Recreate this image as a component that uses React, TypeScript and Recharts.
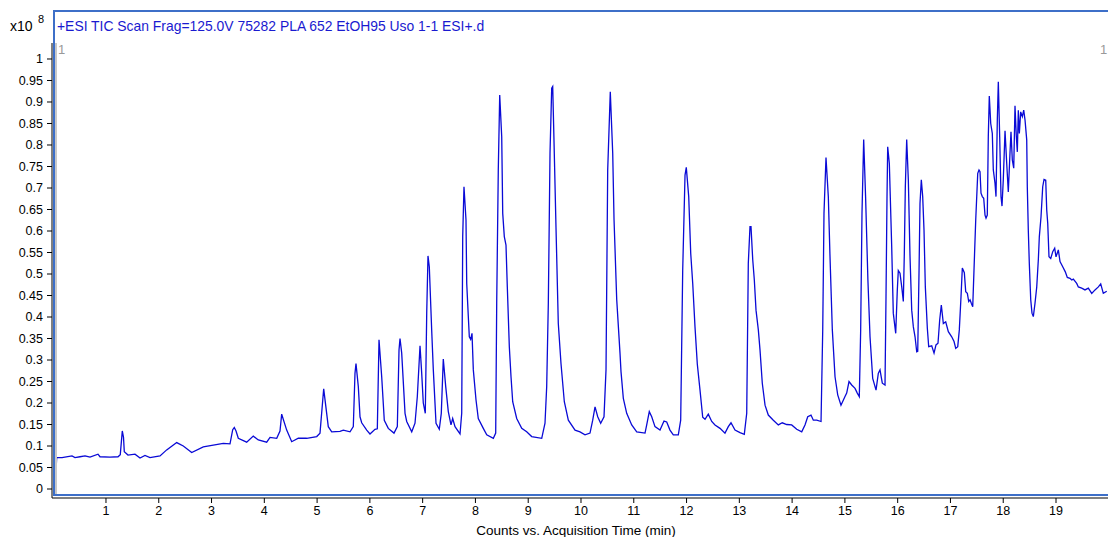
import React from "react";
import { Line, LineChart, XAxis, YAxis } from "recharts";

const FONT = "'Liberation Sans', Arial, Helvetica, sans-serif";
const TRACE = "#0a0ad6";
const FRAME = "#3d6fc8";

const TITLE = "+ESI TIC Scan Frag=125.0V 75282 PLA 652 EtOH95 Uso 1-1 ESI+.d";
const X_LABEL = "Counts vs. Acquisition Time (min)";

const X_TICKS = [1, 2, 3, 4, 5, 6, 7, 8, 9, 10, 11, 12, 13, 14, 15, 16, 17, 18, 19];
const Y_TICKS = [
  0, 0.05, 0.1, 0.15, 0.2, 0.25, 0.3, 0.35, 0.4, 0.45, 0.5, 0.55, 0.6, 0.65, 0.7,
  0.75, 0.8, 0.85, 0.9, 0.95, 1,
];

// retention time (min)
const RT = [
  0.053, 0.066, 0.167, 0.356, 0.413, 0.508, 0.603, 0.697, 0.849, 0.887, 1.076, 1.228,
  1.271, 1.309, 1.332, 1.347, 1.417, 1.55, 1.645, 1.739, 1.834, 2.024, 2.15, 2.34,
  2.465, 2.624, 2.844, 3.033, 3.223, 3.35, 3.401, 3.431, 3.464, 3.507, 3.666, 3.791,
  3.886, 4.045, 4.108, 4.235, 4.297, 4.329, 4.424, 4.519, 4.644, 4.803, 4.993, 5.055,
  5.125, 5.212, 5.277, 5.434, 5.497, 5.624, 5.686, 5.718, 5.737, 5.781, 5.813, 5.845,
  5.94, 6.002, 6.097, 6.141, 6.173, 6.224, 6.273, 6.349, 6.457, 6.52, 6.552, 6.571,
  6.603, 6.666, 6.698, 6.793, 6.855, 6.899, 6.95, 6.982, 7.012, 7.05, 7.077, 7.101,
  7.126, 7.171, 7.202, 7.253, 7.315, 7.353, 7.391, 7.437, 7.486, 7.537, 7.569, 7.613,
  7.708, 7.74, 7.759, 7.783, 7.821, 7.835, 7.865, 7.884, 7.91, 7.935, 7.96, 8.011,
  8.054, 8.149, 8.214, 8.339, 8.384, 8.403, 8.433, 8.46, 8.498, 8.517, 8.547, 8.579,
  8.604, 8.642, 8.674, 8.706, 8.782, 8.877, 8.971, 9.066, 9.256, 9.318, 9.35, 9.381,
  9.413, 9.445, 9.464, 9.494, 9.526, 9.57, 9.621, 9.684, 9.76, 9.887, 9.981, 10.076,
  10.171, 10.222, 10.266, 10.317, 10.373, 10.436, 10.474, 10.506, 10.555, 10.601, 10.626, 10.677,
  10.739, 10.758, 10.802, 10.866, 10.961, 11.056, 11.213, 11.245, 11.294, 11.34, 11.402, 11.497,
  11.573, 11.624, 11.686, 11.749, 11.844, 11.889, 11.927, 11.971, 11.995, 12.041, 12.079, 12.117,
  12.16, 12.204, 12.255, 12.306, 12.35, 12.412, 12.477, 12.539, 12.634, 12.728, 12.791, 12.842,
  12.918, 13.013, 13.094, 13.14, 13.17, 13.202, 13.221, 13.254, 13.284, 13.316, 13.36, 13.392,
  13.435, 13.487, 13.549, 13.644, 13.739, 13.814, 13.898, 13.992, 14.087, 14.182, 14.244, 14.296,
  14.358, 14.402, 14.466, 14.548, 14.58, 14.604, 14.642, 14.686, 14.718, 14.762, 14.813, 14.864,
  14.926, 15.002, 15.034, 15.078, 15.129, 15.192, 15.235, 15.273, 15.299, 15.324, 15.356, 15.392,
  15.436, 15.476, 15.527, 15.59, 15.633, 15.665, 15.709, 15.76, 15.779, 15.798, 15.811, 15.842,
  15.887, 15.917, 15.963, 15.993, 16.012, 16.044, 16.077, 16.107, 16.126, 16.145, 16.171, 16.202,
  16.234, 16.266, 16.297, 16.329, 16.361, 16.38, 16.405, 16.423, 16.448, 16.474, 16.499, 16.524,
  16.562, 16.588, 16.645, 16.689, 16.726, 16.764, 16.796, 16.827, 16.865, 16.91, 16.96, 17.024,
  17.068, 17.1, 17.138, 17.168, 17.2, 17.225, 17.263, 17.289, 17.32, 17.346, 17.371, 17.395,
  17.422, 17.446, 17.479, 17.517, 17.541, 17.56, 17.579, 17.604, 17.63, 17.655, 17.674, 17.698,
  17.717, 17.736, 17.763, 17.793, 17.812, 17.844, 17.863, 17.888, 17.907, 17.933, 17.958, 17.977,
  18.001, 18.034, 18.066, 18.096, 18.128, 18.147, 18.172, 18.199, 18.223, 18.248, 18.267, 18.286,
  18.305, 18.331, 18.362, 18.388, 18.413, 18.445, 18.456, 18.475, 18.494, 18.521, 18.545, 18.57,
  18.602, 18.635, 18.665, 18.684, 18.716, 18.748, 18.773, 18.805, 18.824, 18.843, 18.867, 18.9,
  18.938, 18.975, 19.0, 19.044, 19.076, 19.127, 19.176, 19.214, 19.265, 19.298, 19.328, 19.392,
  19.423, 19.487, 19.549, 19.612, 19.677, 19.739, 19.802, 19.847, 19.896, 19.961,
];

// total ion current (x10^8 counts)
const TIC = [
  0.044, 0.073, 0.073, 0.077, 0.073, 0.075, 0.077, 0.074, 0.081, 0.075, 0.074, 0.075,
  0.08, 0.135, 0.12, 0.087, 0.079, 0.081, 0.072, 0.078, 0.073, 0.077, 0.091, 0.108,
  0.1, 0.085, 0.098, 0.102, 0.106, 0.105, 0.138, 0.143, 0.135, 0.118, 0.109, 0.123,
  0.114, 0.109, 0.12, 0.118, 0.135, 0.174, 0.137, 0.11, 0.118, 0.118, 0.122, 0.13,
  0.233, 0.145, 0.133, 0.134, 0.137, 0.133, 0.145, 0.269, 0.292, 0.238, 0.168, 0.154,
  0.137, 0.128, 0.139, 0.14, 0.347, 0.261, 0.16, 0.141, 0.13, 0.145, 0.323, 0.35,
  0.316, 0.176, 0.157, 0.133, 0.153, 0.215, 0.333, 0.269, 0.2, 0.176, 0.409, 0.542,
  0.517, 0.37, 0.277, 0.153, 0.139, 0.176, 0.302, 0.238, 0.18, 0.149, 0.164, 0.145,
  0.128, 0.176, 0.587, 0.703, 0.626, 0.478, 0.401, 0.354, 0.348, 0.362, 0.277, 0.207,
  0.164, 0.141, 0.126, 0.118, 0.13, 0.432, 0.742, 0.916, 0.819, 0.641, 0.587, 0.567,
  0.47, 0.331, 0.261, 0.203, 0.164, 0.141, 0.133, 0.122, 0.118, 0.153, 0.238, 0.432,
  0.781, 0.932, 0.936, 0.781, 0.61, 0.385, 0.292, 0.203, 0.16, 0.137, 0.133, 0.126,
  0.13, 0.16, 0.191, 0.168, 0.153, 0.168, 0.277, 0.742, 0.924, 0.781, 0.626, 0.44,
  0.316, 0.273, 0.211, 0.176, 0.149, 0.133, 0.13, 0.149, 0.18, 0.168, 0.145, 0.137,
  0.158, 0.156, 0.137, 0.126, 0.126, 0.16, 0.509, 0.73, 0.748, 0.68, 0.548, 0.478,
  0.377, 0.29, 0.23, 0.167, 0.162, 0.174, 0.157, 0.149, 0.141, 0.13, 0.145, 0.154,
  0.137, 0.131, 0.127, 0.176, 0.525, 0.61, 0.61, 0.533, 0.486, 0.416, 0.37, 0.323,
  0.246, 0.195, 0.172, 0.16, 0.149, 0.154, 0.15, 0.149, 0.139, 0.133, 0.149, 0.168,
  0.172, 0.16, 0.16, 0.157, 0.37, 0.641, 0.771, 0.68, 0.54, 0.37, 0.261, 0.219,
  0.195, 0.215, 0.223, 0.25, 0.242, 0.234, 0.223, 0.215, 0.37, 0.641, 0.813, 0.68,
  0.486, 0.354, 0.257, 0.23, 0.269, 0.277, 0.246, 0.242, 0.447, 0.68, 0.796, 0.757,
  0.563, 0.409, 0.362, 0.463, 0.508, 0.502, 0.47, 0.436, 0.548, 0.703, 0.813, 0.719,
  0.54, 0.416, 0.377, 0.354, 0.319, 0.32, 0.509, 0.664, 0.719, 0.68, 0.602, 0.47,
  0.374, 0.331, 0.333, 0.316, 0.335, 0.339, 0.393, 0.428, 0.385, 0.389, 0.366, 0.354,
  0.343, 0.327, 0.331, 0.37, 0.447, 0.514, 0.503, 0.459, 0.455, 0.436, 0.44, 0.432,
  0.424, 0.509, 0.626, 0.734, 0.742, 0.738, 0.688, 0.68, 0.676, 0.637, 0.63, 0.637,
  0.819, 0.914, 0.85, 0.827, 0.742, 0.711, 0.68, 0.858, 0.947, 0.819, 0.68, 0.658,
  0.719, 0.833, 0.757, 0.691, 0.781, 0.831, 0.765, 0.746, 0.891, 0.82, 0.784, 0.881,
  0.827, 0.877, 0.866, 0.881, 0.858, 0.812, 0.703, 0.602, 0.525, 0.44, 0.409, 0.401,
  0.432, 0.47, 0.533, 0.587, 0.633, 0.703, 0.72, 0.718, 0.649, 0.618, 0.54, 0.536,
  0.552, 0.56, 0.54, 0.556, 0.529, 0.517, 0.505, 0.492, 0.49, 0.486, 0.488, 0.478,
  0.47, 0.467, 0.463, 0.467, 0.455, 0.463, 0.47, 0.477, 0.455, 0.46,
];

const points = RT.map((t, i) => ({ t, v: TIC[i] }));

const fmtY = (v: number) => String(Number(v.toFixed(2)));

const abs = (left: number, top: number, extra: React.CSSProperties = {}): React.CSSProperties => ({
  position: "absolute",
  left,
  top,
  whiteSpace: "nowrap",
  fontSize: 12,
  lineHeight: "14px",
  ...extra,
});

export default function App() {
  return (
    <div
      style={{
        position: "fixed",
        left: 0,
        top: 0,
        width: 1108,
        height: 537,
        background: "#fff",
        overflow: "hidden",
        fontFamily: FONT,
      }}
    >
      <LineChart
        width={1108}
        height={537}
        data={points}
        margin={{ top: 43, right: 0, bottom: 0, left: 0 }}
      >
        <XAxis
          type="number"
          dataKey="t"
          domain={[-0.0227, 19.985]}
          ticks={X_TICKS}
          interval={0}
          allowDataOverflow
          height={39}
          tickSize={5}
          tickMargin={3}
          axisLine={{ stroke: "#000" }}
          tickLine={{ stroke: "#000" }}
          tick={{ fill: "#000", fontSize: 12.5, fontFamily: FONT }}
        />
        <YAxis
          type="number"
          domain={[-0.0209, 1.0372]}
          ticks={Y_TICKS}
          interval={0}
          allowDataOverflow
          width={52}
          tickSize={5}
          tickMargin={4}
          tickFormatter={fmtY}
          axisLine={{ stroke: "#000" }}
          tickLine={{ stroke: "#000" }}
          tick={{ fill: "#000", fontSize: 12.5, fontFamily: FONT }}
        />
        <Line
          type="linear"
          dataKey="v"
          stroke={TRACE}
          strokeWidth={1.3}
          dot={false}
          isAnimationActive={false}
        />
      </LineChart>

      {/* plot frame and inner gray rule */}
      <div
        style={{
          position: "absolute",
          left: 53,
          top: 10,
          width: 1080,
          height: 486,
          boxSizing: "border-box",
          border: `2px solid ${FRAME}`,
        }}
      />
      <div style={{ position: "absolute", left: 55, top: 43, width: 1.5, height: 451, background: "#c8c8c8" }} />

      <div style={abs(57, 19, { color: "#1a1ad0", fontSize: 13.9 })}>{TITLE}</div>
      <div style={abs(10, 19, { color: "#000", fontSize: 14 })}>x10</div>
      <div style={abs(38, 13, { color: "#000", fontSize: 11, lineHeight: "13px" })}>8</div>
      <div style={abs(58, 43, { color: "#999", fontSize: 13 })}>1</div>
      <div style={abs(1100, 43, { color: "#999", fontSize: 13 })}>1</div>
      <div style={abs(0, 524, { width: 1152, textAlign: "center", color: "#000", fontSize: 13.5 })}>
        {X_LABEL}
      </div>
    </div>
  );
}
